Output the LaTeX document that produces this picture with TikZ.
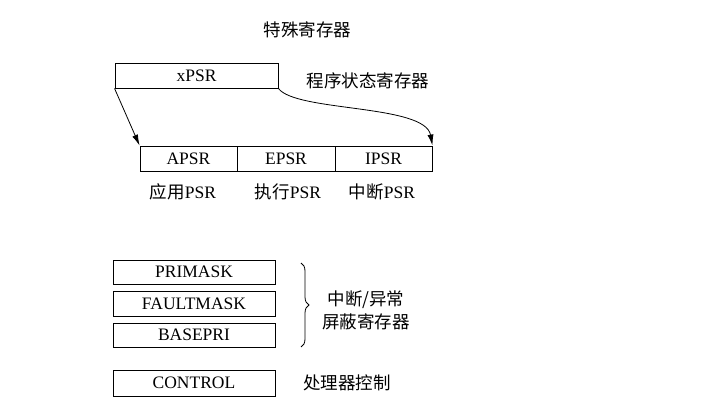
\documentclass[tikz,border=0pt]{standalone}
\usepackage{fontspec}
\setmainfont{Liberation Serif}
\newfontfamily\cjk{Noto Sans CJK SC}
\usetikzlibrary{arrows.meta,decorations.pathreplacing}
\begin{document}
\begin{tikzpicture}[x=1pt,y=-1pt,
  reg/.style={draw,line width=0.9pt,inner sep=0pt,font=\fontsize{17.5}{20}\selectfont},
  lbl/.style={inner sep=0pt,font=\fontsize{17.5}{20}\selectfont},
  arr/.style={line width=0.8pt,-{Latex[length=11pt,width=6pt]}}]
\useasboundingbox (0,0) rectangle (717,411);
\node[lbl] (title) at (307.5,30) {\cjk 特殊寄存器};
\node[reg,minimum width=163pt,minimum height=25pt] (xpsr) at (196.5,75.5) {xPSR};
\node[lbl] (psrlbl) at (368,81) {\cjk 程序状态寄存器};
\node[reg,minimum width=97pt,minimum height=25pt] (apsr) at (188.5,158.5) {APSR};
\node[reg,minimum width=98pt,minimum height=25pt] (epsr) at (286,158.5) {EPSR};
\node[reg,minimum width=97pt,minimum height=25pt] (ipsr) at (383.5,158.5) {IPSR};
\node[lbl] (la) at (183,192) {{\cjk 应用}PSR};
\node[lbl] (le) at (288,192) {{\cjk 执行}PSR};
\node[lbl] (li) at (382,192) {{\cjk 中断}PSR};
\draw[arr] (xpsr.south west) -- (apsr.north west);
\draw[arr] (xpsr.south east) .. controls (296,112) and (425,104) .. (ipsr.north east);
\node[reg,minimum width=162pt,minimum height=24pt] (pri) at (194,272) {PRIMASK};
\node[reg,minimum width=162pt,minimum height=25pt] (fault) at (194,303.5) {FAULTMASK};
\node[reg,minimum width=162pt,minimum height=24pt] (base) at (194,335) {BASEPRI};
\node[reg,minimum width=162pt,minimum height=26pt] (ctrl) at (194,383) {CONTROL};
\coordinate (bt) at (301,263);
\coordinate (bb) at (301,347);
\draw[line width=0.8pt,decorate,decoration={brace,amplitude=8pt}] (bt) -- (bb);
\node[lbl] (m1) at (366,300) {\cjk 中断/异常};
\node[lbl] (m2) at (366,322) {\cjk 屏蔽寄存器};
\node[lbl] (cl) at (347,383) {\cjk 处理器控制};
\end{tikzpicture}
\end{document}
